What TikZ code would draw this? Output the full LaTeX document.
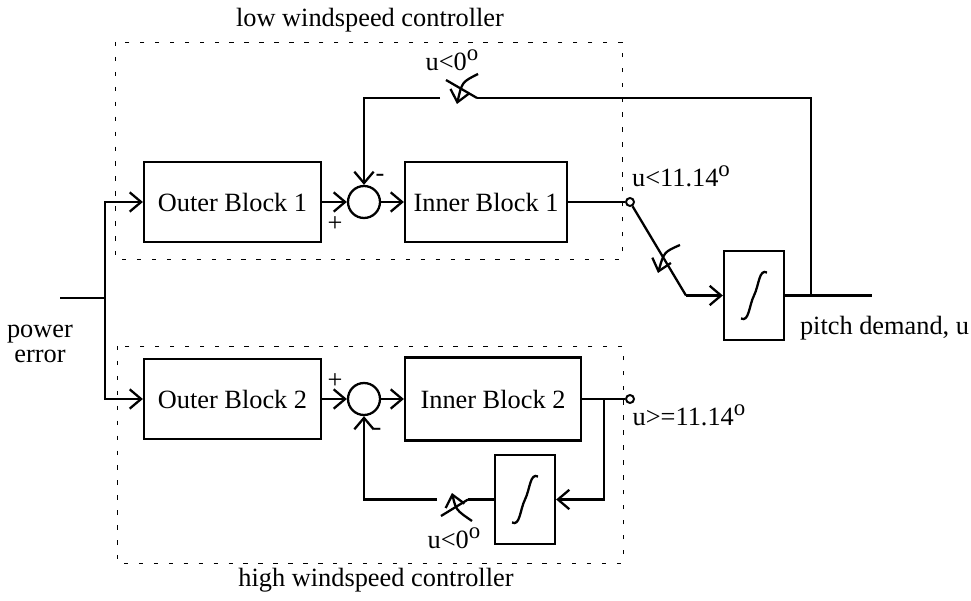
\documentclass[tikz,border=0pt]{standalone}
\usepackage{fontspec}
\setmainfont{Liberation Serif}
\usetikzlibrary{arrows.meta}

\newcommand\degr{\raisebox{0.85ex}{\fontsize{13}{13}\selectfont o}}
\newcommand\integ[1]{%
  \draw[line width=1.3pt,shift={(#1.center)}]
    (-13,23) .. controls (-5,27) and (-5,10) .. (0,0)
    .. controls (5,-10) and (5,-27) .. (13,-23);}

\begin{document}
\begin{tikzpicture}[
  x=0.02cm,y=-0.02cm,
  font=\fontsize{15}{18}\selectfont,
  line width=1.3pt,
  >={Straight Barb[length=6.5pt,width=11pt]},
  block/.style={draw,line width=1.3pt,minimum height=1.6cm,inner sep=0pt},
  sumnode/.style={draw,circle,minimum size=0.64cm,inner sep=0pt},
  satbox/.style={draw,minimum width=1.2cm,minimum height=1.78cm,inner sep=0pt},
  contact/.style={draw,circle,fill=white,minimum size=0.16cm,inner sep=0pt,line width=1.1pt},
  region/.style={line width=0.5pt,dash pattern=on 2.5pt off 6pt}
]
  \useasboundingbox (0,0) rectangle (971,601);

  % controller regions
  \draw[region] (115,42) rectangle (622,259);
  \draw[region] (117,346) rectangle (623,563);
  \node (LowT) at (370,20) {low windspeed controller};
  \node (HighT) at (376,580) {high windspeed controller};

  % blocks
  \node[block,minimum width=3.54cm] (OB1) at (232.5,202) {Outer Block 1};
  \node[block,minimum width=3.54cm] (OB2) at (232.5,399) {Outer Block 2};
  \node[sumnode] (Sum1) at (364,202) {};
  \node[sumnode] (Sum2) at (364,399) {};
  \node[block,minimum width=3.24cm] (IB1) at (486,202) {Inner Block 1};
  \node[block,minimum width=3.52cm,minimum height=1.66cm] (IB2) at (493,399) {Inner Block 2};
  \node[satbox] (Sat1) at (754,295.5) {};
  \node[satbox] (Sat2) at (525,499.5) {};
  \integ{Sat1}
  \integ{Sat2}
  \node[contact] (C1) at (630,202) {};
  \node[contact] (C2) at (630,399) {};

  % signs
  \node (M1) at (380,178) {-};
  \node (P1) at (335,224) {+};
  \node (P2) at (335,381) {+};
  \node (M2) at (377,432) {-};

  % input
  \coordinate (In) at (60,298);
  \coordinate (Split) at (105,298);
  \draw (In) -- (Split);
  \draw[->] (Split) |- (OB1.west);
  \draw[->] (Split) |- (OB2.west);
  \node[align=center] (PE) at (40,344) {power\\[-4pt]error};

  % low windspeed path
  \draw[->] (OB1) -- (Sum1);
  \draw[->] (Sum1) -- (IB1);
  \draw (IB1.east) -- (C1);
  \coordinate (Bend1) at (686,295.5);
  \draw (C1) -- (Bend1);
  \draw[->] (Bend1) -- (Sat1.west);
  \draw[->] (680,245) .. controls (664,252) .. (658,273);
  \node (L1) at (681,176) {u<11.14\degr};

  % output
  \coordinate (Out) at (872,295.5);
  \coordinate (Tap) at (811,295.5);
  \draw (Sat1.east) -- (Out);
  \node[anchor=west] (PD) at (793,328) {pitch demand, u};

  % top feedback
  \coordinate (Sw1b) at (477,98);
  \coordinate (Sw1a) at (440,98);
  \coordinate (Sw1t) at (446,80);
  \draw (Tap) |- (Sw1b);
  \draw (Sw1b) -- (Sw1t);
  \draw[->] (Sw1a) -| (Sum1.north);
  \draw[->] (478,74) .. controls (462,82) .. (457,104);
  \node (L2) at (452,60) {u<0\degr};

  % high windspeed path
  \draw[->] (OB2) -- (Sum2);
  \draw[->] (Sum2) -- (IB2);
  \draw (IB2.east) -- (C2);
  \coordinate (Br) at (604,399);
  \draw[->] (Br) |- (Sat2.east);
  \coordinate (Sw2b) at (468,499.5);
  \coordinate (Sw2a) at (437,499.5);
  \coordinate (Sw2t) at (441,516);
  \draw (Sat2.west) -- (Sw2b);
  \draw (Sw2b) -- (Sw2t);
  \draw[->] (Sw2a) -| (Sum2.south);
  \draw[->] (472,521) .. controls (456,510) .. (452,493);
  \node (L3) at (454,538) {u<0\degr};
  \node (L4) at (689,415) {u>=11.14\degr};
\end{tikzpicture}
\end{document}
